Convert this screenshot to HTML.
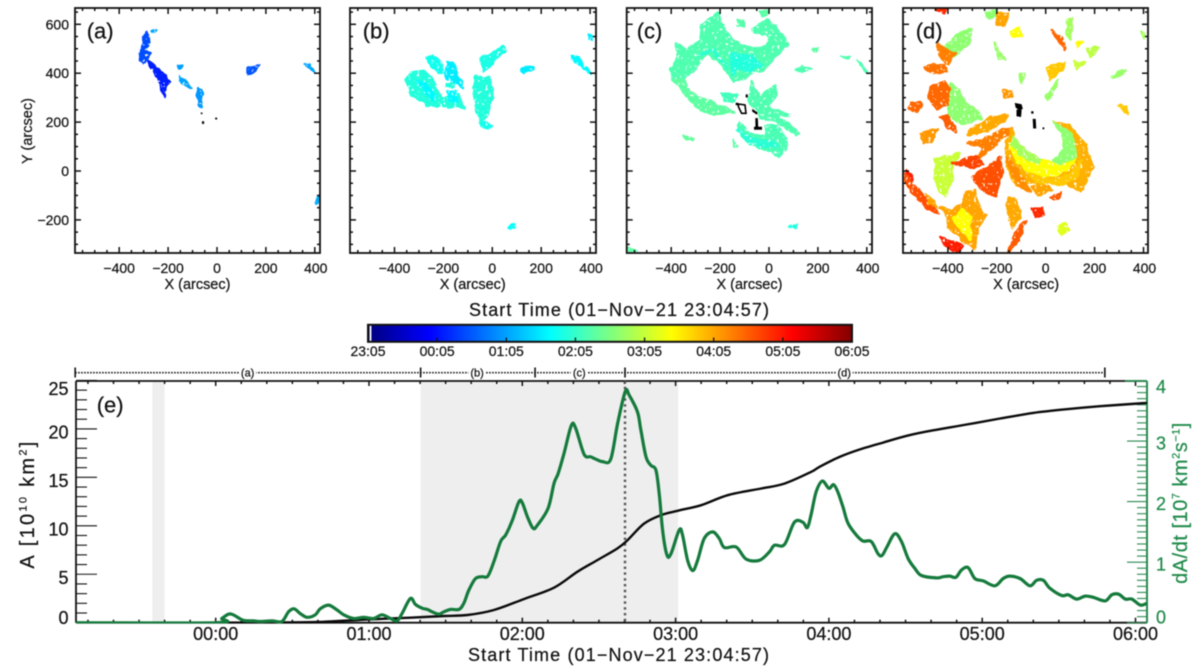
<!DOCTYPE html>
<html>
<head>
<meta charset="utf-8">
<title>Dimming start time maps and area evolution</title>
<style>
html,body{margin:0;padding:0;background:#fff;width:1200px;height:672px;overflow:hidden}
svg{display:block;filter:blur(0.5px)}
text{font-family:"Liberation Sans",sans-serif;fill:#111;stroke:#111;stroke-width:.22}
</style>
</head>
<body>
<svg id="fig" xmlns="http://www.w3.org/2000/svg" width="1200" height="672" viewBox="0 0 1200 672">
<defs>
<clipPath id="clip-e"><rect x="76" y="376" width="1071" height="247.5"/></clipPath>
<clipPath id="clip-a"><rect x="75" y="8" width="245" height="245"/></clipPath>
<clipPath id="clip-b"><rect x="350" y="8" width="246" height="245"/></clipPath>
<clipPath id="clip-c"><rect x="626.7" y="8" width="245.3" height="245"/></clipPath>
<clipPath id="clip-d"><rect x="903" y="8" width="245" height="245"/></clipPath>
<filter id="ragged" filterUnits="userSpaceOnUse" x="0" y="0" width="1200" height="300" color-interpolation-filters="sRGB">
  <feTurbulence type="fractalNoise" baseFrequency="0.13" numOctaves="2" seed="7" result="warp"/>
  <feDisplacementMap in="SourceGraphic" in2="warp" scale="5" xChannelSelector="R" yChannelSelector="G" result="moved"/>
  <feTurbulence type="fractalNoise" baseFrequency="0.35" numOctaves="2" seed="3" result="speck"/>
  <feColorMatrix in="speck" type="matrix" values="0 0 0 0 0  0 0 0 0 0  0 0 0 0 0  14 0 0 0 -3.8" result="mask"/>
  <feComposite in="moved" in2="mask" operator="in"/>
</filter>
</defs>
<rect width="1200" height="672" fill="#fff"/>
</svg>
<script>
// ---------- Chart data ----------
// Start-time map regions: [start minute after 23:05, [x,y,x,y,... in arcsec]]
const panelABlobs = [
[84,[-288,570,-301,536,-304,497,-318,481,-315,454,-301,440,-288,454,-271,484,-288,495,-281,536]],
[65,[-281,451,-254,433,-219,393,-189,365,-210,348,-213,304,-224,311,-230,358,-254,397,-274,427]],
[118,[-162,433,-144,427,-151,418,-162,424]],
[120,[-151,388,-131,372,-104,338,-117,342,-144,365]],
[115,[-74,338,-63,331,-64,263,-70,263,-80,311]],
[88,[124,420,149,420,173,436,162,420,135,397,124,397]],
[120,[364,440,380,433,397,406,380,416]],
[125,[407,-105,418,-105,418,-119,407,-132]],
[120,[-266,574,-247,579,-260,566]]
];
const panelBBlobs = [
[172,[-357,372,-330,406,-282,410,-248,385,-225,330,-200,300,-159,305,-139,310,-112,256,-159,263,-214,263,-268,270,-330,311]],
[155,[-303,372,-269,358,-229,304,-243,290,-283,331]],
[165,[-266,467,-241,474,-214,447,-195,400,-221,403,-260,440]],
[150,[-187,447,-159,440,-139,393,-115,340,-153,362,-190,385]],
[170,[-187,358,-159,358,-159,342,-189,345]],
[155,[-185,325,-150,328,-142,285,-178,285]],
[172,[-71,393,-37,372,-16,393,-6,358,2,304,-20,236,-44,198,-68,250,-75,318]],
[165,[-50,195,-23,202,1,181,-16,174,-44,184]],
[168,[-48,470,-10,478,45,510,56,488,15,461,-6,430,-37,405]],
[150,[120,420,168,427,161,413,127,399]],
[155,[324,470,352,465,406,393,392,397,358,440,324,456]],
[150,[396,555,411,555,407,538,397,538]],
[160,[65,-234,93,-217,93,-230,72,-241]]
];
const panelCBlobs = [
[190,[-207,647,-241,631,-275,597,-282,536,-337,495,-384,522,-371,467,-405,420,-391,372,-350,372,-316,406,-275,454,-252,481,-214,454,-173,406,-146,365,-91,379,-64,406,-23,413,31,467,79,522,45,563,4,549,-10,508,-64,500,-140,530,-175,570,-195,604]],
[192,[-125,615,-102,611,-105,590,-125,597]],
[190,[-71,583,-10,617,31,590,45,563,4,549,-64,570]],
[195,[-37,651,-3,658,-10,638,-30,638]],
[196,[-391,372,-350,372,-323,324,-255,290,-187,263,-146,243,-214,229,-282,250,-337,304]],
[190,[-71,365,-37,304,25,352,31,311,-3,263,86,229,31,229,127,154,113,147,31,202,-30,215,-85,290]],
[188,[-119,202,-85,154,-10,147,-23,184,31,188,72,127,65,86,38,56,-10,86,-78,113,-112,140,-129,181]],
[198,[-350,143,-306,134,-309,123,-343,131]],
[195,[-146,127,-129,99,-139,95]],
[185,[-194,318,-132,311,-139,284,-180,290]],
[190,[106,410,134,431,174,417,134,402]],
[195,[179,495,202,502,195,485]],
[190,[297,465,331,470,324,459]],
[170,[79,-228,110,-217,106,-234]],
[195,[-579,-316,-541,-326,-575,-330]],
[190,[358,457,406,397,393,406]]
];
const panelCInner = [
[175,[-290,470,-230,500,-190,450,-170,420,-230,490]],
[172,[-160,480,-60,470,-30,430,-70,410,-130,420,-150,390]],
[175,[-130,170,-60,130,10,120,40,100,-20,100,-90,120]]
];
const panelDBlobs = [
[216,[-357,563,-303,583,-310,522,-350,488,-398,454,-412,509]],
[216,[-248,651,-200,658,-207,631,-234,617]],
[216,[-391,365,-364,338,-323,283,-282,249,-262,215,-343,188,-391,229,-405,290]],
[325,[-474,342,-413,369,-391,335,-405,274,-450,247,-477,301]],
[325,[-555,277,-514,283,-507,263,-527,243,-562,256]],
[320,[-500,427,-411,440,-404,406,-454,399]],
[315,[-446,522,-371,481,-398,440,-432,467]],
[305,[-514,154,-439,174,-466,120,-500,113]],
[298,[-153,229,-221,222,-309,174,-323,147,-248,161,-166,202]],
[315,[-132,181,-180,168,-262,127,-323,113,-255,99,-289,38,-221,86,-180,127,-146,161]],
[295,[-139,181,-166,99,-159,18,-119,-64,-91,-44,-16,-57,65,-44,147,-85,195,18,161,113,93,188,31,202,65,154,79,86,38,31,-16,45,-85,86,-125,127]],
[262,[-132,140,-85,86,-16,45,38,31,79,86,65,154,31,202,106,154,127,59,93,4,25,-23,-44,-23,-112,31,-146,99]],
[216,[31,202,106,154,127,59,65,31,25,45,79,86,65,154]],
[225,[-132,140,-85,86,-16,45,-30,30,-100,60,-140,110]],
[310,[-166,59,-112,-64,-57,-85,-91,-37,-139,31]],
[285,[-71,-10,25,-37,106,-10,147,45,134,-23,65,-57,-44,-44]],
[335,[-221,31,-183,59,-180,-23,-207,-105,-262,-78,-303,-23]],
[240,[-453,52,-350,72,-384,31,-378,-23,-412,-105,-439,-78,-453,-10]],
[355,[-568,4,-548,-23,-548,-57,-568,-37]],
[335,[-575,-10,-534,-64,-480,-119,-439,-173,-480,-153,-534,-105,-575,-50]],
[340,[-384,31,-289,61,-259,31,-296,11,-350,25]],
[300,[-330,-85,-289,-78,-275,-146,-241,-180,-275,-228,-289,-316,-343,-282,-398,-228,-412,-166,-480,-132,-487,-91,-439,-146,-384,-159,-337,-132]],
[262,[-337,-153,-309,-187,-309,-282,-357,-228,-384,-194]],
[355,[-432,-269,-384,-289,-337,-303,-357,-337,-412,-303]],
[298,[-153,-112,-125,-112,-101,-187,-139,-234,-159,-146]],
[330,[-91,-207,-74,-200,-112,-282,-146,-330,-153,-330,-125,-255]],
[350,[-57,-153,-10,-153,-10,-180,-44,-187]],
[250,[45,-228,79,-214,99,-241,65,-262,45,-241]],
[305,[-173,331,-139,324,-139,304,-173,304]],
[220,[270,386,324,416,317,397,276,379]],
[285,[297,266,331,263,334,229,311,256]],
[225,[386,570,409,563,399,542]],
[225,[86,617,106,624,106,536,86,550]],
[285,[4,420,79,447,65,413,18,372]],
[325,[25,577,65,543,82,495,52,536]],
[265,[127,529,150,529,134,502]],
[235,[168,502,215,508,188,467]],
[300,[-200,645,-153,645,-166,597,-200,597]],
[262,[-139,570,-112,590,-98,549,-139,549]],
[220,[-207,522,-166,454,-194,461]],
[220,[-105,393,-85,393,-98,358]],
[220,[-3,304,52,372,11,290]],
[350,[-451,660,-404,662,-411,646]],
[240,[120,447,161,447,127,413]],
[300,[-57,-64,-3,-57,25,-78,-30,-98]],
[330,[18,-112,65,-85,58,-105,31,-118]],
[330,[-432,222,-398,229,-364,161,-398,174]]
];
// Footprint (black) marks: [x,y,... arcsec]
const panelAFoot = [[-65,238,-61,238,-61,234,-65,234],[-60,202,-54,202,-54,194,-60,194],[-6,217,-1,217,-1,212,-6,212]];
const panelCFoot = [[-94,312,-88,312,-88,302,-94,302],[-135,278,-128,278,-128,270,-135,270],[-67,252,-48,238,-50,232,-68,244],[-55,215,-47,215,-45,176,-54,176],[-60,180,-30,180,-30,170,-60,170]];
const panelCRing = [-125,274,-98,270,-94,236,-112,236,-125,263];
const panelDFoot = [[-125,277,-100,272,-95,255,-108,250,-122,260],[-118,250,-100,250,-102,222,-118,225],[-58,243,-51,243,-51,236,-58,236],[-52,212,-42,212,-40,175,-50,175],[-12,177,-7,177,-7,172,-12,172]];

// Panel (e) series
const rateMinutes = [-55,0,2.4,5,6.9,10.8,14.8,17.4,22,25.9,28.5,30.7,33.1,35.7,39,40.9,44.2,47.5,50.1,54,57.9,61.8,65.1,68.4,71,72.9,76.2,78.2,80.8,82.8,84.7,87.3,89.3,91.9,95.2,97.1,99.1,101.7,104.3,106.5,108.9,111.5,113.5,116.1,118.7,120,122,124.2,125.9,130.1,132.4,134,136.3,139.2,140.9,144.2,146.8,148.8,151.4,154.6,157.3,160.3,161.8,165.1,166.4,168.4,170.3,172.3,173.6,174.9,176.6,178.2,181.4,182.7,184.7,186.7,188.6,191.2,194.5,197.1,199.1,203.7,207.6,212.8,216.7,218.7,222.6,226.5,229.8,231.6,233.1,235,237.4,240,241.8,243.5,245.5,247.5,250.7,253.3,256.6,259.2,260.8,262.7,265.8,268.4,271,273.6,276.2,282.1,284.7,287.3,289.7,291.9,294.5,297.1,300.4,305,308.2,310.8,314.8,318.7,321.3,323.9,326.5,331.1,333.7,337,340.3,343.5,348.1,350.7,353.4,356,358.6,361.9,364.5];
const rateValues = [0,0,.07,.14,.13,.04,.03,.02,.03,.02,.18,.23,.15,.09,.13,.23,.29,.21,.13,.07,.09,.07,.13,.07,.03,.15,.40,.30,.24,.22,.18,.14,.18,.22,.22,.32,.54,.73,.76,.77,1.01,1.34,1.45,1.69,2.0,1.98,1.75,1.56,1.61,1.89,2.30,2.46,2.79,3.26,3.21,2.78,2.74,2.70,2.66,2.70,3.29,3.82,3.76,3.48,3.18,2.74,2.60,2.52,2.13,1.53,1.12,1.14,1.53,1.45,1.03,.86,1.03,1.39,1.50,1.39,1.24,1.25,1.05,1.03,1.17,1.28,1.29,1.66,1.66,1.57,1.80,2.16,2.34,2.22,2.28,2.16,1.91,1.64,1.45,1.35,1.34,1.14,1.11,1.25,1.47,1.34,1.06,.90,.78,.74,.76,.77,.75,.87,.91,.73,.69,.61,.73,.77,.73,.61,.70,.70,.57,.45,.46,.39,.44,.42,.36,.46,.47,.39,.39,.29,.32];
const areaMinutes = [0,22,40,60,76.2,89.3,98.5,108.9,120.6,132.4,141.6,149.4,157.2,161.2,167.7,174.3,180.8,190,200.4,213.5,222.6,233.1,236.3,244.2,252,261.2,270.3,280.8,293.9,307,320,333.1,346.1,364.5];
const areaValues = [0,.02,.07,.34,.52,.69,.79,1.31,2.44,3.61,5.26,6.46,7.66,8.52,10.24,11.1,11.55,12.13,13.16,13.85,14.36,15.57,16.08,17.11,17.87,18.59,19.28,19.86,20.45,21.07,21.65,22.03,22.34,22.68];
const timeTickLabels = ["00:00","01:00","02:00","03:00","04:00","05:00","06:00"];
const areaTicks = [0,5,10,15,20,25];
const rateTicks = [0,1,2,3,4];
const shadedBandStart = [-24.8,80.2];
const shadedBandEnd = [-20,181];
const peakMinute = 160.2;
const intervalNames = ["(a)","(b)","(c)","(d)"];
const intervalEdges = [-55,80.2,125,160.2,348];
const intervalLabelMinutes = [12.5,102.3,142.3,246];
const colorTickLabels = ["23:05","00:05","01:05","02:05","03:05","04:05","05:05","06:05"];
const xTicks = [-400,-200,0,200,400];
const yTicks = [-200,0,200,400,600];

// ---------- Scales ----------
const svg = document.getElementById('fig');
const NS = 'http://www.w3.org/2000/svg';
const minuteX = m => 215.7 + m * 153.3 / 60;
const areaY = v => 622.7 - v * 9.69;
const rateY = v => 622.7 - v * 60.55;
const SCALE = 0.2445;
const colorBarX = m => 368 + m / 420 * 484;
function clamp(v){return Math.max(0,Math.min(1,v));}
function jet(minute){
  const t = minute / 420;
  const r = clamp(1.5 - Math.abs(4*t-3));
  const g = clamp(1.5 - Math.abs(4*t-2));
  const b = clamp(1.5 - Math.abs(4*t-1));
  return 'rgb(' + Math.round(r*255) + ',' + Math.round(g*255) + ',' + Math.round(b*255) + ')';
}
function make(tag, attrs, parent){
  const n = document.createElementNS(NS, tag);
  for (const k in attrs) n.setAttribute(k, attrs[k]);
  (parent || svg).appendChild(n);
  return n;
}
function label(txt, x, y, size, anchor, fill, len){
  const attrs = {x:x, y:y, 'font-size':size, 'text-anchor':anchor || 'middle'};
  if (fill) attrs.style = 'fill:' + fill + ';stroke:' + fill;
  if (len) { attrs.textLength = len; attrs.lengthAdjust = 'spacing'; }
  const t = make('text', attrs);
  t.textContent = txt;
  return t;
}
// Smooth curve through data points (Catmull-Rom)
function smoothPath(xs, ys, sy){
  const P = xs.map((m,i)=>[minuteX(m), sy(ys[i])]);
  let d = 'M' + P[0][0].toFixed(1) + ' ' + P[0][1].toFixed(1);
  for (let i=0;i<P.length-1;i++){
    const p0 = P[Math.max(0,i-1)], p1 = P[i], p2 = P[i+1], p3 = P[Math.min(P.length-1,i+2)];
    const c1x = p1[0] + (p2[0]-p0[0])/6, c1y = p1[1] + (p2[1]-p0[1])/6;
    const c2x = p2[0] - (p3[0]-p1[0])/6, c2y = p2[1] - (p3[1]-p1[1])/6;
    d += ' C' + c1x.toFixed(1)+' '+c1y.toFixed(1)+' '+c2x.toFixed(1)+' '+c2y.toFixed(1)+' '+p2[0].toFixed(1)+' '+p2[1].toFixed(1);
  }
  return d;
}

// ---------- Map panels ----------
const panels = [
 {id:'a',left:75,right:320,zero:217,blobs:panelABlobs,foot:panelAFoot,labelX:86.7,yLabels:true},
 {id:'b',left:350,right:596,zero:492.3,blobs:panelBBlobs,foot:[],labelX:362.7},
 {id:'c',left:626.7,right:872,zero:769,blobs:panelCBlobs.concat(panelCInner),foot:panelCFoot,ring:panelCRing,labelX:636.7},
 {id:'d',left:903,right:1148,zero:1045.7,blobs:panelDBlobs,foot:panelDFoot,labelX:915.7}
];
const mapTop = 8, mapBottom = 253, mapZeroY = 171;
panels.forEach(p => {
  const sx = v => p.zero + v * SCALE;
  const sy = v => mapZeroY - v * SCALE;
  const pts = arr => { const o = []; for (let i=0;i<arr.length;i+=2) o.push(sx(arr[i]).toFixed(1)+','+sy(arr[i+1]).toFixed(1)); return o.join(' '); };
  const outer = make('g',{'clip-path':'url(#clip-'+p.id+')'});
  
  
  const g = make('g',{filter:'url(#ragged)'},outer);
  
  
  p.blobs.forEach(b => {
    const poly = make('polygon',{points:pts(b[1]),fill:jet(b[0]),stroke:jet(b[0]),'stroke-width':2,'stroke-linejoin':'round'},g);
    
    
  });
  p.foot.forEach(f => {
    const poly = make('polygon',{points:pts(f),fill:'#000',stroke:'#000','stroke-width':0.6},outer);
    
    
  });
  if (p.ring) {
    const ring = make('polygon',{points:pts(p.ring),fill:'none',stroke:'#000','stroke-width':1.6},outer);
    
    
  }
  const box = make('rect',{x:p.left,y:mapTop,width:p.right-p.left,height:mapBottom-mapTop,fill:'none',stroke:'#111','stroke-width':1.8});
  
  
  const tg = make('g',{stroke:'#111','stroke-width':1.5});
  
  
  for (let v=-550; v<=400; v+=50) {
    const major = v % 200 === 0, L = major ? 6 : 3, x = sx(v);
    make('line',{x1:x,x2:x,y1:mapBottom,y2:mapBottom-L},tg);
    make('line',{x1:x,x2:x,y1:mapTop,y2:mapTop+L},tg);
  }
  for (let v=-300; v<=650; v+=50) {
    const major = v % 200 === 0, L = major ? 6 : 3, y = sy(v);
    make('line',{x1:p.left,x2:p.left+L,y1:y,y2:y},tg);
    make('line',{x1:p.right,x2:p.right-L,y1:y,y2:y},tg);
  }
  xTicks.forEach(v => {
    const t = label(String(v).replace('-','\u2212'), sx(v) + (v===400 ? 1 : 0), 273, 14);
    
    
  });
  const xt = label('X (arcsec)', sx(-80), 289, 14.5, 'middle', null, 66);
  
  
  if (p.yLabels) {
    yTicks.forEach(v => {
      const t = label(String(v).replace('-','\u2212'), 69, sy(v)+5, 14, 'end');
      
      
    });
    const yt = label('Y (arcsec)', 0, 0, 14.5, 'middle', null, 66);
    yt.setAttribute('transform','translate(32,131) rotate(-90)');
    
    
  }
  const pl = label('(' + p.id + ')', p.labelX, 38.5, 22, 'start');
  
  
});

// ---------- Colour bar ----------
const cbTitle = label('Start Time (01\u2212Nov\u221221 23:04:57)', 619, 316, 18, 'middle', null, 300);


const cb = make('g',{});


for (let m=0; m<420; m+=2) {
  make('rect',{x:colorBarX(m),y:325,width:colorBarX(2)-colorBarX(0)+0.6,height:16.5,fill:jet(m)},cb);
}
make('rect',{x:369.6,y:325,width:1.8,height:16.5,fill:'#fff'},cb);
make('rect',{x:368,y:324.8,width:484,height:17,fill:'none',stroke:'#111','stroke-width':2},cb);
colorTickLabels.forEach((s,i) => {
  const x = colorBarX(i*60);
  if (i>0 && i<7) make('line',{x1:x,x2:x,y1:341,y2:337.5,stroke:'#111','stroke-width':1.3},cb);
  const t = label(s, x, 356, 14);
  
  
});

// ---------- Panel (e) ----------
shadedBandStart.forEach((b,i) => {
  const r = make('rect',{x:minuteX(b),y:381,width:minuteX(shadedBandEnd[i])-minuteX(b),height:241.7,fill:'#eeeeee'});
  
  
});
const axes = make('g',{stroke:'#111','stroke-width':1.5});


make('line',{x1:76,x2:1147,y1:381,y2:381,'stroke-width':1.8},axes);
make('line',{x1:76,x2:1147,y1:622.7,y2:622.7,'stroke-width':1.8},axes);
make('line',{x1:76,x2:76,y1:381,y2:622.7,'stroke-width':1.8},axes);
for (let m=-50; m<=360; m+=10) {
  const major = m % 60 === 0, L = major ? 5 : 3, x = minuteX(m);
  make('line',{x1:x,x2:x,y1:622.7,y2:622.7-L},axes);
  make('line',{x1:x,x2:x,y1:381,y2:381+L},axes);
}
for (let v=0; v<=25; v+=1) {
  const L = v % 5 === 0 ? 21 : 11;
  make('line',{x1:76,x2:76+L,y1:areaY(v),y2:areaY(v),'stroke-width':1.1},axes);
}
const raxes = make('g',{stroke:'#2a8a50','stroke-width':1.1});


make('line',{x1:1147,x2:1147,y1:381,y2:622.7,'stroke-width':2},raxes);
make('line',{x1:1125,x2:1147,y1:381,y2:381,'stroke-width':1.8},raxes);
for (let i=0; i<=40; i++) {
  const L = i % 10 === 0 ? 20 : 10, y = rateY(i/10);
  make('line',{x1:1147,x2:1147-L,y1:y,y2:y},raxes);
}
const peak = make('line',{x1:minuteX(peakMinute),x2:minuteX(peakMinute),y1:381,y2:622.7,stroke:'#555','stroke-width':2.4,'stroke-dasharray':'2.4 3.4'});


const curves = make('g',{'clip-path':'url(#clip-e)'});


const areaLine = make('path',{d:smoothPath(areaMinutes,areaValues,areaY),fill:'none',stroke:'#0a0a0a','stroke-width':2.4,'stroke-linejoin':'round'},curves);


const rateLine = make('path',{d:smoothPath(rateMinutes,rateValues,rateY),fill:'none',stroke:'#157a3c','stroke-width':3.2,'stroke-linejoin':'round'},curves);



timeTickLabels.forEach((s,i) => {
  const t = label(s, minuteX(i*60), 640, 18);
  
  
});
areaTicks.forEach(v => {
  const off = v === 25 ? 14.5 : v === 0 ? 1.5 : 9.5;
  const t = label(String(v), 68.5, areaY(v)+off, 18, 'end');
  
  
});
rateTicks.forEach(v => {
  const off = v === 4 ? 12.5 : v === 0 ? 1 : 8.5;
  const t = label(String(v), 1161, rateY(v)+off, 18, 'middle', '#1f8a4a');
  
  
});
const timeTitle = label('Start Time (01\u2212Nov\u221221 23:04:57)', 618.5, 661, 18, 'middle', null, 301);


const eLabel = label('(e)', 96.7, 412.5, 22, 'start');



function supTitle(parts, x, y, fill, size, spacing, name){
  const t = make('text',{transform:'translate('+x+','+y+') rotate(-90)','text-anchor':'middle','font-size':size,style:'fill:'+fill+';stroke:'+fill+';letter-spacing:'+spacing+'px'});
  
  
  parts.forEach(p => {
    const s = make('tspan',{},t);
    s.textContent = p[0];
    if (p[1]) { s.setAttribute('font-size', size*0.55); s.setAttribute('dy', -size*0.38); }
    else if (p[2]) { s.setAttribute('dy', size*0.38); }
  });
}
supTitle([['A [10'],['10',1],[' km',0,1],['2',1],[']',0,1]], 34, 504, '#111', 20, 2.3, 'area-axis-title');
supTitle([['dA/dt [10'],['7',1],[' km',0,1],['2',1],['s',0,1],['\u22121',1],[']',0,1]], 1187, 503, '#1f8a4a', 20, 0.5, 'rate-axis-title');

// ---------- Interval bar ----------
const bar = make('g',{});


make('line',{x1:minuteX(intervalEdges[0]),x2:minuteX(intervalEdges[4]),y1:372.7,y2:372.7,stroke:'#111','stroke-width':1.6,'stroke-dasharray':'1.5 1.5'},bar);
intervalEdges.forEach(m => {
  const x = minuteX(m);
  make('line',{x1:x,x2:x,y1:367.5,y2:377.5,stroke:'#111','stroke-width':1.6},bar);
});
intervalNames.forEach((s,i) => {
  const x = minuteX(intervalLabelMinutes[i]);
  make('rect',{x:x-8.5,y:367,width:17,height:11,fill:'#fff'},bar);
  const t = label(s, x, 376.5, 11);
  
  
});
</script>
</body>
</html>
